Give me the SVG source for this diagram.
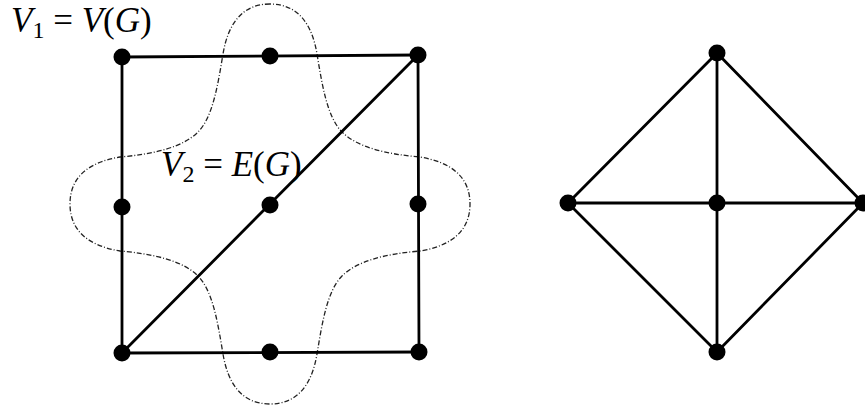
<svg xmlns="http://www.w3.org/2000/svg" width="865" height="407" viewBox="0 0 865 407">
<style>
.e{stroke:#000;stroke-width:2.8;fill:none;stroke-linecap:round}
.n{fill:#000}
.d{fill:none;stroke:#222;stroke-width:1.3;stroke-dasharray:5 2 1 2}
.t{font-family:"Liberation Serif",serif;font-size:35px;fill:#000}
.it{font-style:italic}
</style>
<rect width="865" height="407" fill="#fff"/>
<path class="d" transform="translate(270,204)" d="M0,-200 C-28,-200 -42,-180 -47,-150 C-52,-120 -57,-87 -72,-72 C-87,-57 -115,-50 -150,-47 C-180,-42 -200,-28 -200,0 C-200,28 -180,42 -150,47 C-115,50 -87,57 -72,72 C-57,87 -52,120 -47,150 C-42,180 -28,200 0,200 C28,200 42,180 47,150 C52,120 57,87 72,72 C87,57 115,50 150,47 C180,42 200,28 200,0 C200,-28 180,-42 150,-47 C115,-50 87,-57 72,-72 C57,-87 52,-120 47,-150 C42,-180 28,-200 0,-200 Z"/>
<g id="connectors">
<line class="e" x1="122" y1="57" x2="418" y2="55"/>
<line class="e" x1="122" y1="57" x2="122" y2="353"/>
<line class="e" x1="418" y1="55" x2="419" y2="352"/>
<line class="e" x1="122" y1="353" x2="419" y2="352"/>
<line class="e" x1="122" y1="353" x2="418" y2="55"/>
<line class="e" x1="717" y1="53" x2="568" y2="203"/>
<line class="e" x1="717" y1="53" x2="863" y2="203"/>
<line class="e" x1="568" y1="203" x2="717" y2="352"/>
<line class="e" x1="863" y1="203" x2="717" y2="352"/>
<line class="e" x1="717" y1="53" x2="717" y2="352"/>
<line class="e" x1="568" y1="203" x2="863" y2="203"/>
</g>
<g id="n-tl"><circle class="n" cx="122" cy="57" r="8.5"/></g>
<g id="n-tm"><circle class="n" cx="270" cy="56" r="8.5"/></g>
<g id="n-tr"><circle class="n" cx="418" cy="55" r="8.5"/></g>
<g id="n-lm"><circle class="n" cx="122" cy="207" r="8.5"/></g>
<g id="n-c"><circle class="n" cx="270" cy="205" r="8.5"/></g>
<g id="n-rm"><circle class="n" cx="418" cy="204" r="8.5"/></g>
<g id="n-bl"><circle class="n" cx="122" cy="353" r="8.5"/></g>
<g id="n-bm"><circle class="n" cx="270" cy="352" r="8.5"/></g>
<g id="n-br"><circle class="n" cx="419" cy="352" r="8.5"/></g>
<g id="r-top"><circle class="n" cx="717" cy="53" r="8.5"/></g>
<g id="r-left"><circle class="n" cx="568" cy="203" r="8.5"/></g>
<g id="r-center"><circle class="n" cx="717" cy="203" r="8.5"/></g>
<g id="r-right"><circle class="n" cx="863" cy="203" r="8.5"/></g>
<g id="r-bottom"><circle class="n" cx="717" cy="352" r="8.5"/></g>
<g id="label-v1"><text class="t" x="11" y="32"><tspan class="it">V</tspan><tspan font-size="24" dy="6">1</tspan><tspan dy="-6" xml:space="preserve"> = </tspan><tspan class="it">V</tspan>(<tspan class="it">G</tspan>)</text></g>
<g id="label-v2"><text class="t" x="161" y="176"><tspan class="it">V</tspan><tspan font-size="24" dy="6">2</tspan><tspan dy="-6" xml:space="preserve"> = </tspan><tspan class="it">E</tspan>(<tspan class="it">G</tspan>)</text></g>
</svg>
